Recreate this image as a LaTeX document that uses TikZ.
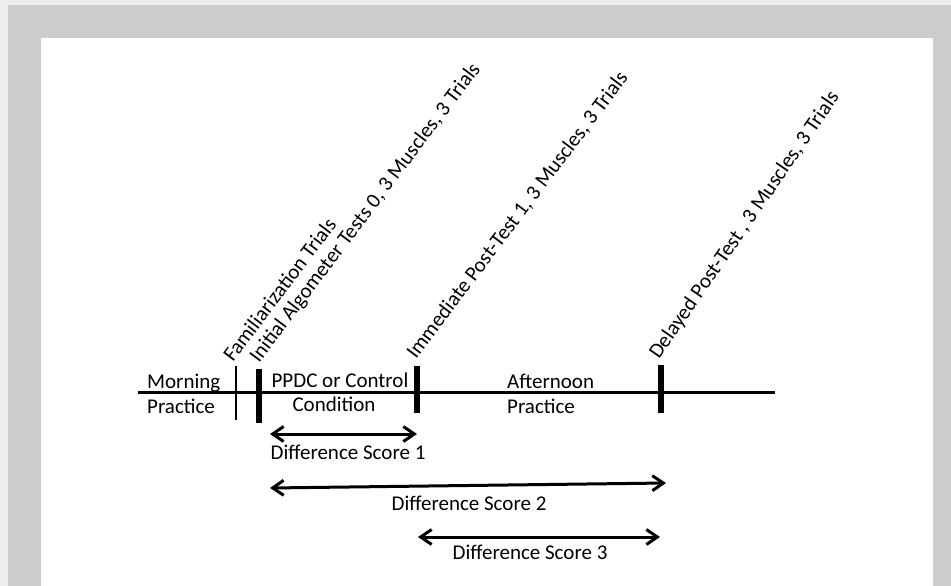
\documentclass[tikz,border=0pt]{standalone}
\usepackage{fontspec}
\setmainfont{Carlito}
\usetikzlibrary{arrows.meta}
\definecolor{framegray}{HTML}{CCCCCC}
\definecolor{edgegray}{HTML}{EDEDED}
\tikzset{
  lbl/.style={inner sep=0pt, font=\fontsize{21}{25}\selectfont},
  tilt/.style={lbl, rotate=#1, anchor=base west},
  tilt/.default=53,
  thintick/.style={line width=2pt},
  thicktick/.style={line width=5.5pt},
  span/.style={line width=3pt,
    {Straight Barb[length=11pt,width=15pt]}-{Straight Barb[length=11pt,width=15pt]}}
}

\begin{document}
\begin{tikzpicture}[x=1pt, y=-1pt]
\useasboundingbox (0,0) rectangle (951,586);
% frame
\fill[edgegray] (0,0) rectangle (951,586);
\fill[framegray] (8,5) rectangle (951,586);
\fill[white] (41,38) rectangle (933,586);

% time line
\coordinate (tlstart) at (138,392);
\coordinate (tlend) at (775,392);
\draw[line width=3pt] (tlstart) -- (tlend);

% ticks
\coordinate (famtop) at (236,366);
\coordinate (fambot) at (236,420);
\coordinate (inittop) at (259,369);
\coordinate (initbot) at (259,423);
\coordinate (immtop) at (417,366);
\coordinate (immbot) at (417,413);
\coordinate (deltop) at (661,365);
\coordinate (delbot) at (661,413);
\draw[thintick] (famtop) -- (fambot);
\draw[thicktick] (inittop) -- (initbot);
\draw[thicktick] (immtop) -- (immbot);
\draw[thicktick] (deltop) -- (delbot);

% tilted labels
\node[tilt] (famlbl) at (233,363) {Familiarization Trials};
\node[tilt] (initlbl) at (259,364) {Initial Algometer Tests 0, 3 Muscles, 3 Trials};
\node[tilt] (immlbl) at (416,360) {Immediate Post-Test 1, 3 Muscles, 3 Trials};
\node[tilt=55.5] (dellbl) at (659,360) {Delayed Post-Test , 3 Muscles, 3 Trials};

% phases
\node[lbl, anchor=base west] (morning) at (147,388) {Morning};
\node[lbl, anchor=base west] (mpractice) at (147,413) {Practice};
\node[lbl, anchor=base] (ppdc) at (340,387) {PPDC or Control};
\node[lbl, anchor=base] (condition) at (334,411) {Condition};
\node[lbl, anchor=base west] (afternoon) at (507,388) {Afternoon};
\node[lbl, anchor=base west] (apractice) at (507,413) {Practice};

% difference scores
\coordinate (dsa) at (270,434);
\coordinate (dsb) at (417,434);
\coordinate (dsc) at (270,488);
\coordinate (dsd) at (666,483);
\coordinate (dse) at (418,537);
\coordinate (dsf) at (660,537);
\draw[span] (dsa) -- (dsb);
\draw[span] (dsc) -- (dsd);
\draw[span] (dse) -- (dsf);
\node[lbl, anchor=base] (dsone) at (348,459) {Difference Score 1};
\node[lbl, anchor=base] (dstwo) at (469,510) {Difference Score 2};
\node[lbl, anchor=base] (dsthree) at (530,559) {Difference Score 3};
\end{tikzpicture}
\end{document}
